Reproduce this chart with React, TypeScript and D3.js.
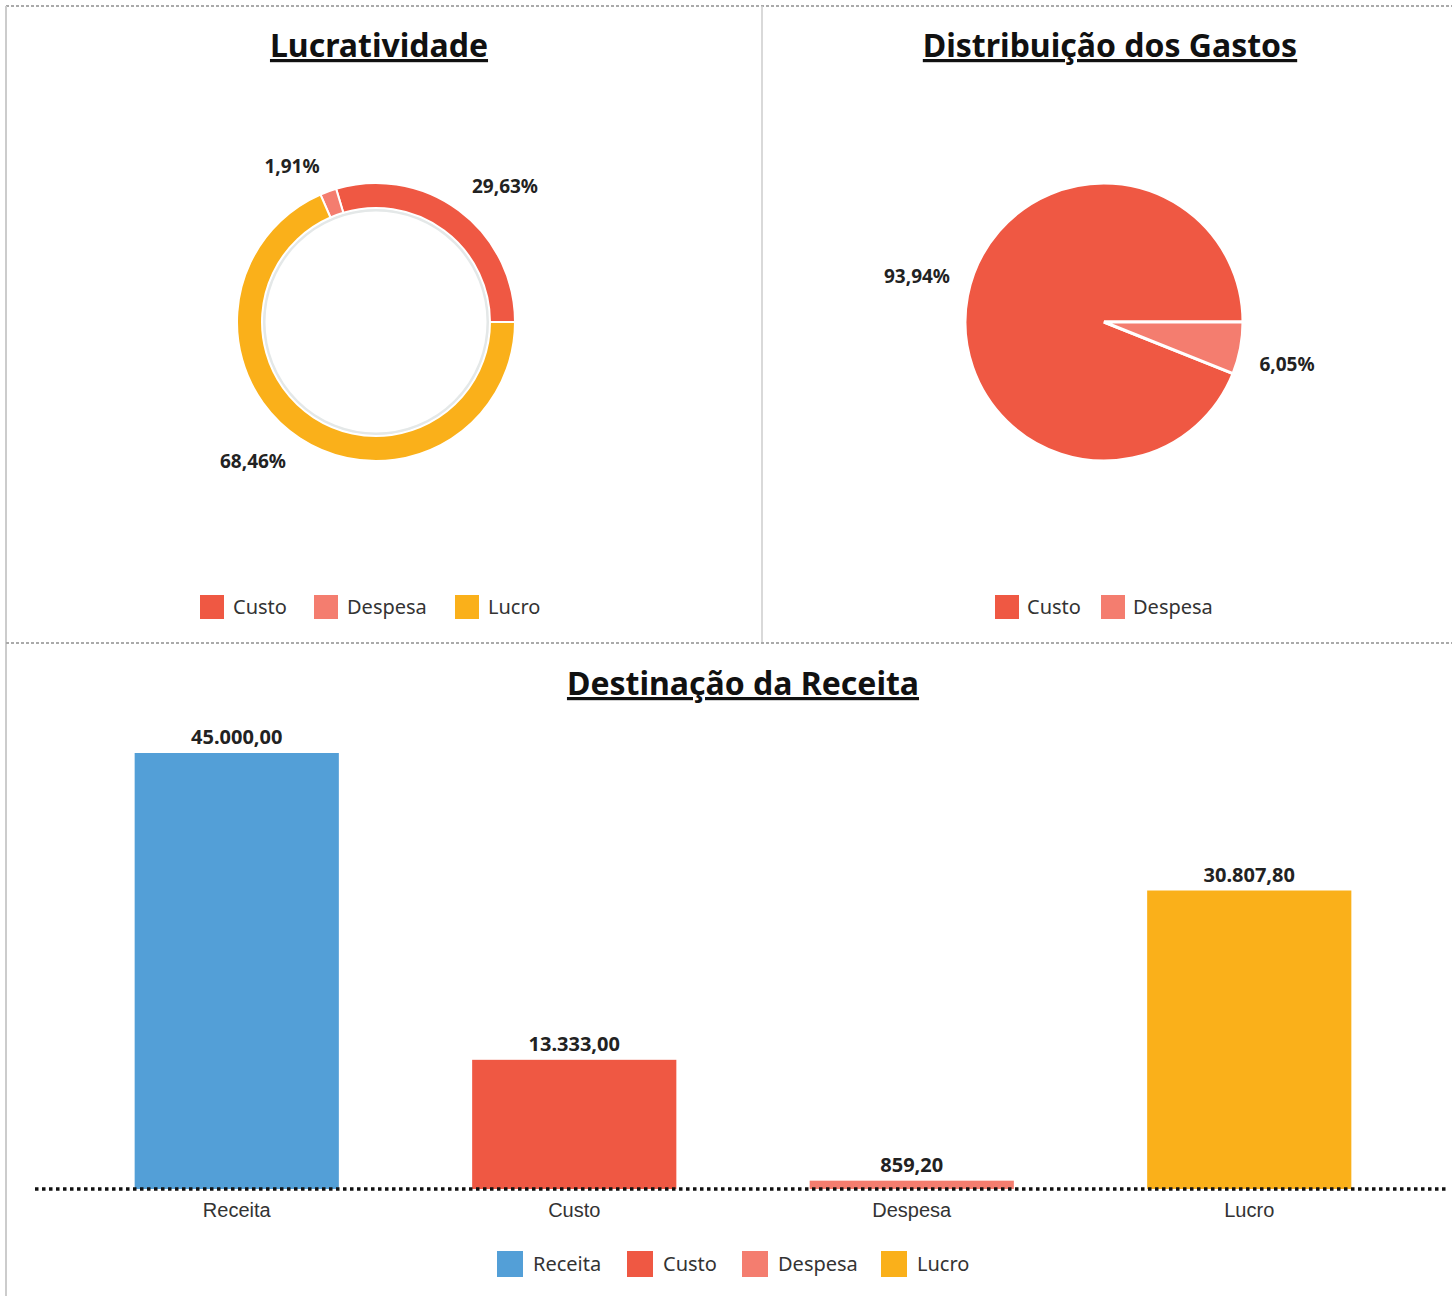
import React from "react";
import * as d3 from "d3";

// Lucratividade (donut)
const lucroCats = ["Custo", "Despesa", "Lucro"];
const lucroPct = [29.63, 1.91, 68.46];
const lucroLabels = ["29,63%", "1,91%", "68,46%"];

// Distribuição dos Gastos (pie)
const gastoCats = ["Custo", "Despesa"];
const gastoPct = [93.94, 6.05];
const gastoLabels = ["93,94%", "6,05%"];

// Destinação da Receita (bars)
const barCats = ["Receita", "Custo", "Despesa", "Lucro"];
const barValues = [45000, 13333, 859.2, 30807.8];
const barLabels = ["45.000,00", "13.333,00", "859,20", "30.807,80"];

const colors: Record<string, string> = {
  Receita: "#539FD7",
  Custo: "#EF5843",
  Despesa: "#F47D6F",
  Lucro: "#FAB01A",
};

const W = 1454;
const H = 1296;
const uiFont = "'Noto Sans', 'Open Sans', sans-serif";
const axisFont = "'Liberation Sans', Arial, sans-serif";

// counter-clockwise from 3 o'clock, like the spreadsheet did
const pieGen = d3
  .pie<number>()
  .sort(null)
  .startAngle(Math.PI / 2)
  .endAngle(Math.PI / 2 - 2 * Math.PI);

const Legend = ({ items, x, y, size, gap, widths }: any) => {
  let cx = x;
  return (
    <g>
      {items.map((name: string, i: number) => {
        const gx = cx;
        cx += widths[i];
        return (
          <g key={name} transform={`translate(${gx},${y})`}>
            <rect x={0} y={-size / 2} width={size} height={size} fill={colors[name]} />
            <text x={size + gap} y={0} dy="0.35em" fontSize={20} fontFamily={uiFont} fill="#333">
              {name}
            </text>
          </g>
        );
      })}
    </g>
  );
};

const Title = ({ x, y, children }: any) => (
  <text
    x={x}
    y={y}
    textAnchor="middle"
    fontSize={32}
    fontWeight="bold"
    fontFamily={uiFont}
    fill="#111"
    style={{ textDecoration: "underline" }}
  >
    {children}
  </text>
);

const Donut = () => {
  const cx = 376;
  const cy = 322;
  const arcs = pieGen(lucroPct);
  const arc = d3.arc<any>().innerRadius(114).outerRadius(139);
  const labelPos: [number, number][] = [
    [505, 186],
    [292, 166],
    [253, 461],
  ];
  return (
    <g>
      <circle cx={cx} cy={cy} r={112} fill="none" stroke="#e4e8e8" strokeWidth={3} />
      <g transform={`translate(${cx},${cy})`}>
        {arcs.map((a, i) => (
          <path key={i} d={arc(a) as string} fill={colors[lucroCats[i]]} stroke="#fff" strokeWidth={2} />
        ))}
      </g>
      {lucroLabels.map((t, i) => (
        <text
          key={t}
          x={labelPos[i][0]}
          y={labelPos[i][1]}
          dy="0.35em"
          textAnchor="middle"
          fontSize={19}
          fontWeight="bold"
          fontFamily={uiFont}
          fill="#222"
        >
          {t}
        </text>
      ))}
    </g>
  );
};

const Pie = () => {
  const cx = 1104;
  const cy = 322;
  const arcs = pieGen(gastoPct);
  const arc = d3.arc<any>().innerRadius(0).outerRadius(139);
  const labelPos: [number, number][] = [
    [917, 276],
    [1287, 364],
  ];
  return (
    <g>
      <g transform={`translate(${cx},${cy})`}>
        {arcs.map((a, i) => (
          <path key={i} d={arc(a) as string} fill={colors[gastoCats[i]]} stroke="#fff" strokeWidth={3} />
        ))}
      </g>
      {gastoLabels.map((t, i) => (
        <text
          key={t}
          x={labelPos[i][0]}
          y={labelPos[i][1]}
          dy="0.35em"
          textAnchor="middle"
          fontSize={19}
          fontWeight="bold"
          fontFamily={uiFont}
          fill="#222"
        >
          {t}
        </text>
      ))}
    </g>
  );
};

const Bars = () => {
  const x = d3.scaleBand<string>().domain(barCats).range([68, 1418]).paddingInner(0.395).paddingOuter(0.1975);
  const y = d3.scaleLinear().domain([0, 45000]).range([1189, 753]);
  return (
    <g>
      {barCats.map((c, i) => (
        <g key={c}>
          <rect
            x={x(c)}
            y={y(barValues[i])}
            width={x.bandwidth()}
            height={y(0) - y(barValues[i])}
            fill={colors[c]}
          />
          <text
            x={(x(c) as number) + x.bandwidth() / 2}
            y={y(barValues[i]) - 9}
            textAnchor="middle"
            fontSize={20}
            fontWeight="bold"
            fontFamily={uiFont}
            fill="#222"
          >
            {barLabels[i]}
          </text>
          <text
            x={(x(c) as number) + x.bandwidth() / 2}
            y={1210}
            dy="0.35em"
            textAnchor="middle"
            fontSize={20}
            fontFamily={axisFont}
            fill="#333"
          >
            {c}
          </text>
        </g>
      ))}
      <line x1={35} x2={1448} y1={y(0)} y2={y(0)} stroke="#111" strokeWidth={3.5} strokeDasharray="3.5,3.5" />
    </g>
  );
};

export default function App() {
  return (
    <svg
      width={W}
      height={H}
      style={{ position: "absolute", left: 0, top: 0, background: "#fff" }}
    >
      {/* frame */}
      <line x1={6} x2={1452} y1={6} y2={6} stroke="#aaa" strokeWidth={2} strokeDasharray="3,2" />
      <line x1={6} x2={6} y1={6} y2={1296} stroke="#ccc" strokeWidth={2} />
      <line x1={762} x2={762} y1={6} y2={643} stroke="#ccc" strokeWidth={1.5} />
      <line x1={6} x2={1452} y1={643} y2={643} stroke="#aaa" strokeWidth={2} strokeDasharray="3,2" />

      <Title x={379} y={57}>Lucratividade</Title>
      <Title x={1110} y={57}>Distribuição dos Gastos</Title>
      <Title x={743} y={695}>Destinação da Receita</Title>

      <Donut />
      <Pie />
      <Bars />

      <Legend items={lucroCats} x={200} y={607} size={24} gap={9} widths={[114, 141, 120]} />
      <Legend items={gastoCats} x={995} y={607} size={24} gap={8} widths={[106, 120]} />
      <Legend items={barCats} x={497} y={1264} size={26} gap={10} widths={[130, 115, 139, 120]} />
    </svg>
  );
}
